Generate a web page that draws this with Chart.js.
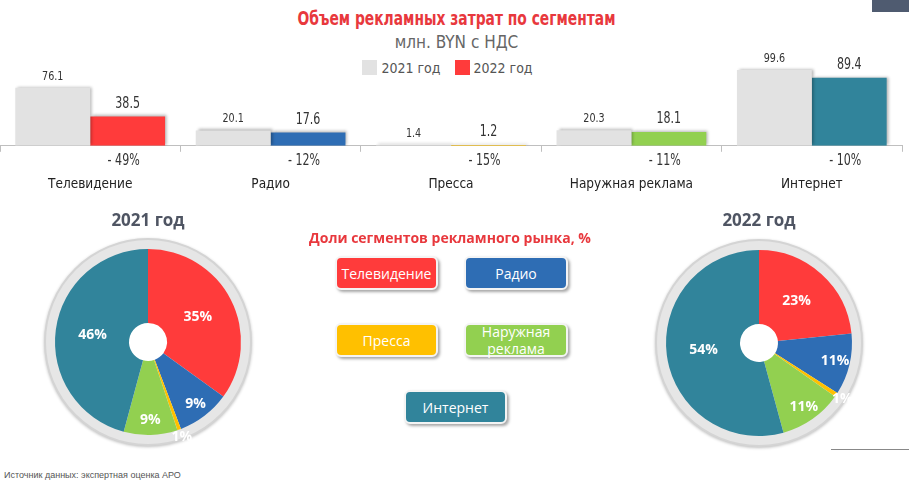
<!DOCTYPE html>
<html>
<head>
<meta charset="utf-8">
<script src="https://cdn.jsdelivr.net/npm/chart.js@4.4.1/dist/chart.umd.min.js"></script>
<style>
    body { margin: 0; width: 909px; height: 482px; background: #fff; position: relative; overflow: hidden; font-family: 'Open Sans', sans-serif; }
    .abs { position: absolute; }
    .narrow { font-family: 'Liberation Sans Narrow', 'DejaVu Sans Condensed', sans-serif; }
    #title { left: 0; width: 913px; top: 7px; text-align: center; color: #e8383d; font-weight: bold; font-size: 19px; transform: scaleX(0.81); }
    #subtitle { left: 0; width: 913px; top: 32px; text-align: center; color: #666; font-size: 17px; }
    #legend { left: 0; width: 895px; top: 60px; text-align: center; color: #555; font-size: 14px; }
    #legend span.box { display: inline-block; width: 15px; height: 15px; vertical-align: -2px; margin-right: 4px; }
    #legend span.item { margin: 0 5px; }
    .btn { position: absolute; box-sizing: border-box; border: 2px solid #f4f4f4; border-radius: 6px; color: #fff; font-size: 14px;
           display: flex; align-items: center; justify-content: center; text-align: center; line-height: 17px;
           box-shadow: 2px 2px 3px rgba(0,0,0,0.35); }
    .pietitle { width: 200px; text-align: center; font-weight: bold; font-size: 17px; color: #4f5563; }
</style>
</head>
<body>
<div id="title" class="abs narrow">Объем рекламных затрат по сегментам</div>
<div id="subtitle" class="abs narrow">млн. BYN с НДС</div>
<div id="legend" class="abs narrow">
    <span class="item"><span class="box" style="background:#e2e2e2"></span>2021 год</span>
    <span class="item"><span class="box" style="background:#ff3b3b"></span>2022 год</span>
</div>
<div class="abs" style="left:872px;top:0;width:37px;height:12px;background:#4f5b70"></div>

<div class="abs" style="left:0;top:0;width:909px;height:226px"><canvas id="barChart"></canvas></div>

<div class="abs pietitle" style="left:48px;top:208px">2021 год</div>
<div class="abs pietitle" style="left:659px;top:208px">2022 год</div>
<div class="abs" style="left:33px;top:227px;width:230px;height:230px"><canvas id="pie2021"></canvas></div>
<div class="abs" style="left:644px;top:228px;width:230px;height:230px"><canvas id="pie2022"></canvas></div>

<div class="abs" style="left:300px;width:300px;top:228px;text-align:center;color:#e8383d;font-weight:bold;font-size:14px">Доли сегментов рекламного рынка, %</div>
<div class="btn" style="left:335px;top:256px;width:103px;height:34px;background:#ff3b3b">Телевидение</div>
<div class="btn" style="left:464px;top:256px;width:104px;height:34px;background:#2e6db4">Радио</div>
<div class="btn" style="left:335px;top:323px;width:103px;height:34px;background:#ffc000">Пресса</div>
<div class="btn" style="left:464px;top:323px;width:104px;height:34px;background:#92d050">Наружная<br>реклама</div>
<div class="btn" style="left:404px;top:390px;width:103px;height:34px;background:#31849b">Интернет</div>

<div class="abs" style="left:831px;top:449px;width:78px;height:1px;background:#888"></div>
<div class="abs" style="left:4px;top:470px;font-family:'Liberation Sans',sans-serif;font-size:9px;color:#555">Источник данных: экспертная оценка АРО</div>

<script>
// данные
var segments = ['Телевидение', 'Радио', 'Пресса', 'Наружная реклама', 'Интернет'];
var values2021 = [76.1, 20.1, 1.4, 20.3, 99.6];
var values2022 = [38.5, 17.6, 1.2, 18.1, 89.4];
var changes = [-49, -12, -15, -11, -10];
var segmentColors = ['#ff3b3b', '#2e6db4', '#ffc000', '#92d050', '#31849b'];

var narrow = "'Liberation Sans Narrow', 'DejaVu Sans Condensed', sans-serif";

document.addEventListener('DOMContentLoaded', function () {
    // тень под столбцами
    var barShadow = {
        id: 'barShadow',
        beforeDatasetDraw: function (chart) {
            var ctx = chart.ctx;
            ctx.save();
            ctx.shadowColor = 'rgba(0,0,0,0.3)';
            ctx.shadowBlur = 3;
            ctx.shadowOffsetX = 2;
            ctx.shadowOffsetY = -1;
        },
        afterDatasetDraw: function (chart) {
            chart.ctx.restore();
        }
    };

    // сжатый по ширине текст, как на слайде
    function squeezed(ctx, text, x, y) {
        ctx.save();
        ctx.translate(x, y);
        ctx.scale(0.82, 1);
        ctx.fillText(text, 0, 0);
        ctx.restore();
    }

    // подписи значений и изменений
    var barLabels = {
        id: 'barLabels',
        afterDatasetsDraw: function (chart) {
            var ctx = chart.ctx;
            ctx.save();
            ctx.textAlign = 'center';
            ctx.fillStyle = '#333';
            chart.data.datasets.forEach(function (ds, i) {
                var meta = chart.getDatasetMeta(i);
                ctx.font = (i === 0 ? '13px ' : '15px ') + narrow;
                ctx.textBaseline = 'bottom';
                meta.data.forEach(function (bar, j) {
                    squeezed(ctx, ds.data[j].toFixed(1), bar.x, bar.y - 5);
                });
            });
            var m1 = chart.getDatasetMeta(1);
            ctx.font = '15px ' + narrow;
            ctx.textBaseline = 'middle';
            changes.forEach(function (c, j) {
                squeezed(ctx, '- ' + Math.abs(c) + '%', m1.data[j].x - 4, chart.chartArea.bottom + 15);
            });
            ctx.restore();
        }
    };

    var barCtx = document.getElementById('barChart').getContext('2d');
    var barChart = new Chart(barCtx, {
        type: 'bar',
        data: {
            labels: segments,
            datasets: [{
                label: '2021 год',
                data: values2021,
                backgroundColor: '#e2e2e2'
            }, {
                label: '2022 год',
                data: values2022,
                backgroundColor: segmentColors
            }]
        },
        options: {
            responsive: true,
            maintainAspectRatio: false,
            animation: false,
            categoryPercentage: 0.83,
            barPercentage: 1,
            layout: { padding: { top: 30, left: 0, right: 7, bottom: 8 } },
            plugins: { legend: { display: false }, tooltip: { enabled: false } },
            scales: {
                x: {
                    grid: { offset: true, drawOnChartArea: false, drawTicks: true, tickLength: 6, color: '#bfbfbf' },
                    border: { color: '#bfbfbf' },
                    ticks: { padding: 25, color: '#222', font: { family: narrow, size: 13.5 } }
                },
                y: { display: false, min: 0, max: 152 }
            }
        },
        plugins: [barShadow, barLabels]
    });

    // серое кольцо вокруг круговой диаграммы
    var pieRing = {
        id: 'pieRing',
        beforeDatasetsDraw: function (chart) {
            var arc = chart.getDatasetMeta(0).data[0];
            var ctx = chart.ctx;
            ctx.save();
            ctx.shadowColor = 'rgba(0,0,0,0.25)';
            ctx.shadowBlur = 3;
            ctx.shadowOffsetY = 1;
            ctx.beginPath();
            ctx.arc(arc.x, arc.y, arc.outerRadius + 11, 0, Math.PI * 2);
            ctx.arc(arc.x, arc.y, arc.outerRadius - 1, 0, Math.PI * 2, true);
            ctx.fillStyle = '#d4d4d4';
            ctx.fill();
            ctx.shadowColor = 'transparent';
            ctx.beginPath();
            ctx.arc(arc.x, arc.y, arc.outerRadius + 9, 0, Math.PI * 2);
            ctx.arc(arc.x, arc.y, arc.outerRadius - 1, 0, Math.PI * 2, true);
            ctx.fillStyle = '#e6e6e6';
            ctx.fill();
            ctx.restore();
        }
    };

    // проценты на секторах
    var pieLabels = {
        id: 'pieLabels',
        afterDatasetsDraw: function (chart) {
            var ctx = chart.ctx;
            var data = chart.data.datasets[0].data;
            var total = data.reduce(function (a, b) { return a + b; }, 0);
            ctx.save();
            ctx.font = 'bold 14px "Open Sans", sans-serif';
            ctx.fillStyle = '#fff';
            ctx.textAlign = 'center';
            ctx.textBaseline = 'middle';
            chart.getDatasetMeta(0).data.forEach(function (arc, j) {
                var share = data[j] / total;
                var t = share > 0.15 ? 0.5 : (share > 0.05 ? 0.8 : 1.1);
                var mid = (arc.startAngle + arc.endAngle) / 2;
                var r = arc.innerRadius + t * (arc.outerRadius - arc.innerRadius);
                ctx.fillText(Math.round(share * 100) + '%', arc.x + Math.cos(mid) * r, arc.y + Math.sin(mid) * r);
            });
            ctx.restore();
        }
    };

    function makePie(id, values) {
        var ctx = document.getElementById(id).getContext('2d');
        return new Chart(ctx, {
            type: 'doughnut',
            data: {
                labels: segments,
                datasets: [{
                    data: values,
                    backgroundColor: segmentColors,
                    borderWidth: 0
                }]
            },
            options: {
                responsive: true,
                maintainAspectRatio: false,
                animation: false,
                cutout: 19,
                layout: { padding: 22 },
                plugins: { legend: { display: false }, tooltip: { enabled: false } }
            },
            plugins: [pieRing, pieLabels]
        });
    }

    var pie2021 = makePie('pie2021', values2021);
    var pie2022 = makePie('pie2022', values2022);
});
</script>
</body>
</html>
